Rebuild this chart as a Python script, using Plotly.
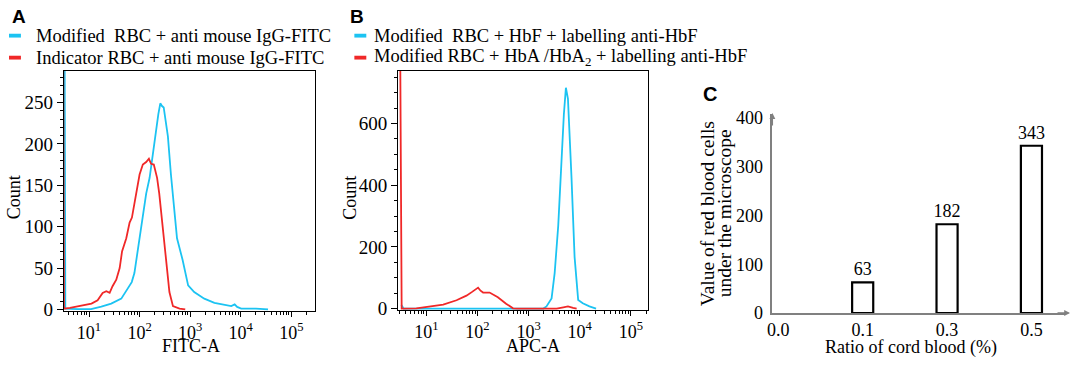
import plotly.graph_objects as go

W, H = 1072, 367

# ---------------- data ----------------
# Panel A (FITC-A histogram)
a_cyan_x = [3.3, 3.4, 6, 11, 17.5, 27.5, 43.5, 58.5, 70, 79, 90, 100, 116, 135, 158, 182, 213, 235, 257, 275, 300,
            363, 417, 490, 550, 708, 912, 1202, 1905, 3020, 4786, 6500, 7586, 8500, 10230, 20000, 34670]
a_cyan_y = [300, 1, 0.5, 0.5, 3.5, 7, 13, 24.5, 33, 44, 67, 90, 113, 140, 159, 186, 221, 236, 249, 246, 244,
            209, 163, 121, 86, 60, 29, 21, 13, 8, 6, 4, 6, 3, 1, 1, 0]
a_red_x = [3.1, 3.2, 4.2, 8.2, 11.2, 14.8, 18.6, 22, 25.6, 29.2, 34.6, 40.4, 45, 54.6, 63.5, 70.6, 86, 100, 116,
           135, 153, 169, 191, 222, 245, 288, 339, 389, 457, 617, 800]
a_red_y = [300, 1, 2, 6, 7, 11, 20, 22, 20, 28, 36, 50, 70, 86, 105, 111, 140, 163, 175,
           178, 182, 176, 175, 159, 140, 98, 56, 21, 4, 1, 0]

# Panel B (APC-A histogram)
b_cyan_x = [3.25, 3.6, 1950, 2239, 2818, 3236, 3802, 4365, 4898, 5370, 5888, 6918, 7943, 9333, 11482, 15488, 20893]
b_cyan_y = [12, 0, 0, 7, 33, 115, 269, 475, 629, 716, 680, 423, 167, 28, 17, 7, 0]
b_red_x = [3.1, 3.3, 6.4, 11.8, 21.4, 39, 61, 80, 103, 115, 129, 173, 251, 363, 496, 600,
           3548, 4786, 5888, 7413, 8710]
b_red_y = [800, 0, 1, 6, 13, 27, 42, 55, 68, 58, 52, 52, 37, 16, 1, 0,
           0, 4, 7, 2, 0]

# Panel C (bar chart)
c_categories = ["0.0", "0.1", "0.3", "0.5"]
c_bar_x = ["0.1", "0.3", "0.5"]
c_bar_y = [63, 182, 343]

decade_vals = [10, 100, 1000, 10000, 100000]
decade_text = ["10<sup>1</sup>", "10<sup>2</sup>", "10<sup>3</sup>", "10<sup>4</sup>", "10<sup>5</sup>"]
minor_vals = [m * 10 ** e for e in range(0, 6) for m in range(2, 10)]

legend_a = ["Modified  RBC + anti mouse IgG-FITC", "Indicator RBC + anti mouse IgG-FITC"]
legend_b = ["Modified  RBC + HbF + labelling anti-HbF", "Modified RBC + HbA /HbA<sub>2</sub> + labelling anti-HbF"]

CYAN = "#1cc3f2"
RED = "#f02828"
FONT = "Liberation Serif"


def px(x):
    return min(max(x / W, 0.0), 1.0)


def py(y):
    return min(max(1 - y / H, 0.0), 1.0)


fig = go.Figure()
fig.add_trace(go.Scatter(x=a_cyan_x, y=a_cyan_y, mode="lines", line=dict(color=CYAN, width=1.8),
                         xaxis="x", yaxis="y", name=legend_a[0], showlegend=False))
fig.add_trace(go.Scatter(x=a_red_x, y=a_red_y, mode="lines", line=dict(color=RED, width=1.8),
                         xaxis="x", yaxis="y", name=legend_a[1], showlegend=False))
fig.add_trace(go.Scatter(x=b_cyan_x, y=b_cyan_y, mode="lines", line=dict(color=CYAN, width=1.8),
                         xaxis="x2", yaxis="y2", name="HbF", showlegend=False))
fig.add_trace(go.Scatter(x=b_red_x, y=b_red_y, mode="lines", line=dict(color=RED, width=1.8),
                         xaxis="x2", yaxis="y2", name="HbA", showlegend=False))
fig.add_trace(go.Bar(x=c_bar_x, y=c_bar_y, width=0.25, marker=dict(color="white", line=dict(color="black", width=2.2)),
                     text=[str(v) for v in c_bar_y], textposition="outside", cliponaxis=False,
                     constraintext="none",
                     textfont=dict(family=FONT, size=18, color="black"),
                     xaxis="x3", yaxis="y3", showlegend=False))


def tf(size):
    return dict(family=FONT, size=size, color="black")


def hist_x():
    return dict(type="log", showline=True, linecolor="black", linewidth=1, mirror=True,
                ticks="outside", ticklen=5, tickcolor="black", tickvals=decade_vals, ticktext=decade_text,
                minor=dict(ticks="outside", ticklen=3, tickcolor="black", tickvals=minor_vals, showgrid=False),
                showgrid=False, zeroline=False, tickfont=tf(18))


def hist_y():
    return dict(showline=True, linecolor="black", linewidth=1, mirror=True, ticks="outside", ticklen=6,
                tickcolor="black", showgrid=False, zeroline=False, tickfont=tf(19))


fig.update_layout(
    width=W, height=H, margin=dict(l=0, r=0, t=0, b=0),
    paper_bgcolor="white", plot_bgcolor="white",
    font=dict(family=FONT, color="black"),
    xaxis=dict(domain=[px(59), px(311)], range=[0.50, 5.46], anchor="y", **hist_x()),
    yaxis=dict(domain=[py(319), py(68)], range=[-2, 288], anchor="x", tickvals=[0, 50, 100, 150, 200, 250],
               minor=dict(ticks="outside", ticklen=3, tickcolor="black", dtick=10, showgrid=False),
               **hist_y()),
    xaxis2=dict(domain=[px(395), px(646)], range=[0.45, 5.335], anchor="y2", **hist_x()),
    yaxis2=dict(domain=[py(318), py(68)], range=[-5, 770], anchor="x2", tickvals=[0, 200, 400, 600],
                minor=dict(ticks="outside", ticklen=3, tickcolor="black", dtick=50, showgrid=False),
                **hist_y()),
    xaxis3=dict(domain=[px(771), px(1066)], range=[-0.07, 3.41], anchor="y3", type="category",
                categoryorder="array", categoryarray=c_categories, tickvals=c_categories, ticktext=c_categories,
                showline=True, linecolor="#808080", linewidth=1.5, ticks="",
                showgrid=False, zeroline=False, tickfont=tf(18)),
    yaxis3=dict(domain=[py(321), py(113)], range=[0, 408], anchor="x3", tickvals=[0, 100, 200, 300, 400],
                showline=True, linecolor="#808080", linewidth=1.5, ticks="outside", ticklen=4,
                tickcolor="rgba(0,0,0,0)", showgrid=False, zeroline=False, tickfont=tf(18)),
    bargap=0.5,
)

ann = []


def txt(x, y, s, size, angle=0, xanchor="center", family=FONT, bold=False):
    ann.append(dict(x=px(x), y=py(y), xref="paper", yref="paper", text=("<b>%s</b>" % s) if bold else s,
                    showarrow=False, xanchor=xanchor, yanchor="middle", textangle=angle,
                    font=dict(family=family, size=size, color="black")))


# panel letters
txt(14, 11, "A", 19, family="Liberation Sans", bold=True)
txt(354, 11, "B", 19, family="Liberation Sans", bold=True)
txt(708, 92, "C", 20, family="Liberation Sans", bold=True)

# legends (colored dash + text)
for (mx, tx, labels) in [(4, 29, legend_a), (351, 369, legend_b)]:
    for i, (lab, col) in enumerate(zip(labels, [CYAN, RED])):
        yy = 31 + 23 * i
        fig.add_shape(type="rect", xref="paper", yref="paper", x0=px(mx), x1=px(mx + 12),
                      y0=py(yy + 2), y1=py(yy - 2), fillcolor=col, line=dict(width=0))
        txt(tx, yy, lab, 18.5, xanchor="left")

# axis titles
txt(9, 200, "Count", 18, angle=-90)
txt(347, 200, "Count", 18, angle=-90)
txt(187, 356, "FITC-A", 18)
txt(530, 356, "APC-A", 18)
txt(910, 357, "Ratio of cord blood (%)", 18)
txt(706, 217, "Value of red blood cells", 19.5, angle=-90)
txt(723, 217, "under the microscope", 19.5, angle=-90)

# axis arrows for panel C
ann.append(dict(x=px(771), y=py(112), xref="paper", yref="paper", ax=0, ay=14, axref="pixel", ayref="pixel",
                text="", showarrow=True, arrowhead=2, arrowsize=0.9, arrowwidth=1.3, arrowcolor="#808080"))
ann.append(dict(x=px(1070), y=py(321), xref="paper", yref="paper", ax=-14, ay=0, axref="pixel", ayref="pixel",
                text="", showarrow=True, arrowhead=2, arrowsize=0.9, arrowwidth=1.3, arrowcolor="#808080"))

fig.update_layout(annotations=ann)
fig.write_html("out.html", config={"displayModeBar": False},
               post_script="document.body.style.margin='0';document.body.style.padding='0';")
